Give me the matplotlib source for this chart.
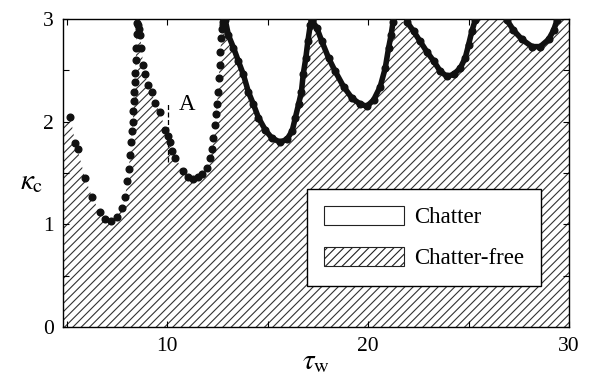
import matplotlib
matplotlib.use('Agg')
import matplotlib.pyplot as plt
import matplotlib.ticker as mticker
from matplotlib.patches import Patch
import numpy as np

plt.rcParams['font.family'] = ['Liberation Serif', 'DejaVu Serif']
plt.rcParams['mathtext.fontset'] = 'stix'
plt.rcParams['hatch.linewidth'] = 0.8

# stability lobes (tau_w, kappa_c)
lobe_a_x = [5.18, 5.43, 5.54, 5.92, 6.26, 6.64, 6.92, 7.20, 7.50, 7.75, 7.92,
            8.00, 8.08, 8.16, 8.21, 8.25, 8.29, 8.32, 8.35, 8.37, 8.40, 8.42,
            8.44, 8.46, 8.48, 8.50]
lobe_a_y = [2.05, 1.79, 1.73, 1.45, 1.27, 1.12, 1.05, 1.03, 1.07, 1.16, 1.27,
            1.42, 1.54, 1.68, 1.80, 1.91, 2.00, 2.10, 2.20, 2.29, 2.39, 2.47,
            2.60, 2.72, 2.85, 2.96]
lobe_b_x = [8.55, 8.60, 8.66, 8.72, 8.81, 8.91, 9.06, 9.24, 9.40, 9.66, 9.90,
            10.02, 10.15, 10.24, 10.40, 10.80, 11.05, 11.30, 11.55, 11.73,
            11.98, 12.14, 12.24, 12.30, 12.40, 12.43, 12.48, 12.52, 12.56,
            12.61, 12.65, 12.69, 12.72, 12.76, 12.80, 12.85]
lobe_b_y = [2.94, 2.90, 2.84, 2.72, 2.55, 2.46, 2.36, 2.29, 2.18, 2.09, 1.92,
            1.86, 1.80, 1.71, 1.65, 1.52, 1.46, 1.44, 1.46, 1.49,
            1.55, 1.65, 1.73, 1.84, 1.97, 2.07, 2.17, 2.29, 2.42,
            2.55, 2.68, 2.81, 2.90, 2.94, 2.97, 2.99]
lobe_c_x = [12.89, 13.05, 13.30, 13.54, 13.79, 14.04, 14.29, 14.54, 14.88,
            15.21, 15.63, 15.97, 16.22, 16.38, 16.54, 16.68, 16.77, 16.90,
            17.00, 17.12, 17.20]
lobe_c_y = [2.99, 2.84, 2.72, 2.59, 2.46, 2.29, 2.17, 2.04, 1.92,
            1.84, 1.80, 1.83, 1.91, 2.04, 2.17, 2.29, 2.46, 2.62,
            2.78, 2.94, 2.99]
lobe_d_x = [17.20, 17.45, 17.70, 18.03, 18.36, 18.78, 19.19, 19.61, 19.94,
            20.27, 20.60, 20.85, 21.02, 21.14, 21.24]
lobe_d_y = [2.99, 2.91, 2.78, 2.62, 2.49, 2.34, 2.23, 2.17, 2.15,
            2.21, 2.34, 2.52, 2.72, 2.84, 2.97]
lobe_e_x = [21.93, 22.26, 22.59, 22.92, 23.26, 23.59, 23.92, 24.25, 24.58,
            24.83, 25.00, 25.16, 25.33]
lobe_e_y = [2.97, 2.88, 2.78, 2.68, 2.59, 2.49, 2.44, 2.46, 2.52,
            2.62, 2.75, 2.88, 2.99]
lobe_f_x = [26.90, 27.23, 27.65, 28.15, 28.56, 28.98, 29.23, 29.40]
lobe_f_y = [2.99, 2.89, 2.80, 2.73, 2.73, 2.80, 2.89, 2.99]

x_lim = (4.83, 30)
y_lim = (0, 3)
marker_a = (10.02, 1.61, 2.18)  # tau_w, kappa from, kappa to

fig = plt.figure(figsize=(5.91, 3.77), dpi=100)
ax = fig.add_axes([0.107, 0.132, 0.856, 0.818])

# hatched chatter-free region under the lobes
bx = np.concatenate([[x_lim[0]], lobe_a_x, lobe_b_x, lobe_c_x, lobe_d_x,
                     lobe_e_x, lobe_f_x, [x_lim[1]]])
by = np.concatenate([[lobe_a_y[0] - 0.1], lobe_a_y, lobe_b_y, lobe_c_y,
                     lobe_d_y, lobe_e_y, lobe_f_y, [y_lim[1]]])
ax.fill_between(bx, 0, np.minimum(by, y_lim[1]), facecolor='white',
                edgecolor='#333333', hatch='////', linewidth=0, zorder=1)

dot = dict(color='#111111', marker='o', markersize=4.8, zorder=3)
ax.plot(lobe_a_x, lobe_a_y, linestyle='none', **dot)
ax.plot(lobe_b_x, lobe_b_y, linestyle='none', **dot)
for lx, ly in [(lobe_c_x, lobe_c_y), (lobe_d_x, lobe_d_y),
               (lobe_e_x, lobe_e_y), (lobe_f_x, lobe_f_y)]:
    ax.plot(lx, ly, linestyle='-', linewidth=4.0, solid_joinstyle='round',
            solid_capstyle='round', **dot)

ax.plot([marker_a[0], marker_a[0]], marker_a[1:], color='black',
        linestyle=(0, (4, 2)), linewidth=0.9, zorder=2)
ax.text(10.98, 2.17, 'A', fontsize=16.5, ha='center', va='center')

ax.set_xlim(*x_lim)
ax.set_ylim(*y_lim)
ax.xaxis.set_major_locator(mticker.MultipleLocator(10))
ax.xaxis.set_minor_locator(mticker.MultipleLocator(5))
ax.yaxis.set_major_locator(mticker.MultipleLocator(1))
ax.yaxis.set_minor_locator(mticker.MultipleLocator(0.5))
ax.tick_params(which='both', direction='in', top=True, right=True,
               length=4.5, width=0.8, labelsize=15.5, pad=7)
for s in ax.spines.values():
    s.set_linewidth(1.0)

ax.set_xlabel(r'$\tau_{\rm w}$', fontsize=21, labelpad=-5)
ax.set_ylabel(r'$\kappa_{\rm c}$', fontsize=21, rotation=0,
              ha='center', va='center')
ax.yaxis.set_label_coords(-0.062, 0.47)

handles = [Patch(facecolor='white', edgecolor='#222222', linewidth=0.8),
           Patch(facecolor='white', edgecolor='#222222', linewidth=0.8,
                 hatch='////')]
leg = ax.legend(handles, ['Chatter', 'Chatter-free'], loc='lower left',
                bbox_to_anchor=(0.482, 0.133), fontsize=16.5, fancybox=False,
                edgecolor='black', framealpha=1, handlelength=3.5,
                handleheight=0.9, handletextpad=0.4, labelspacing=0.8,
                borderpad=0.75, borderaxespad=0)
leg.get_frame().set_linewidth(1.0)
leg.set_zorder(5)

fig.savefig('out.png', dpi=100)
